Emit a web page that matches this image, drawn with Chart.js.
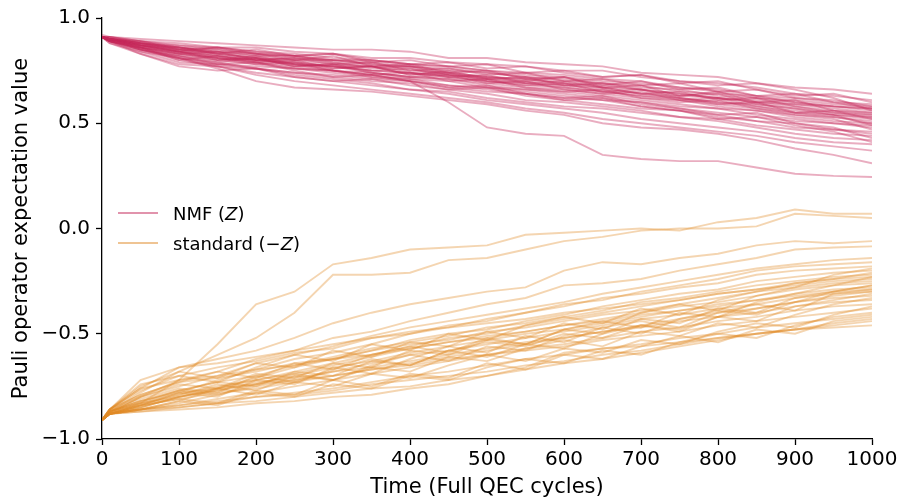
<!DOCTYPE html>
<html>
<head>
<meta charset="utf-8">
<script src="https://cdn.jsdelivr.net/npm/chart.js@4"></script>
<style>
  body { margin: 0; background: #fff; }
  #wrap { position: relative; width: 902px; height: 502px; }
  .legend { position: absolute; left: 118px; top: 198px; font-family: 'DejaVu Sans', sans-serif; font-size: 18px; color: #000; }
  .legend div { height: 30px; display: flex; align-items: center; }
  .legend span.ln { display: inline-block; width: 40px; height: 2px; margin-right: 15px; }
</style>
</head>
<body>
<div id="wrap">
  <canvas id="chart" width="902" height="502"></canvas>
  <div class="legend">
    <div><span class="ln" style="background: rgba(196, 40, 90, 0.5)"></span>NMF (<i>Z</i>)</div>
    <div><span class="ln" style="background: rgba(224, 138, 40, 0.5)"></span>standard (−<i>Z</i>)</div>
  </div>
</div>
<script>
const times = [0, 10, 50, 100, 150, 200, 250, 300, 350, 400, 450, 500, 550, 600, 650, 700, 750, 800, 850, 900, 950, 1000];
const yTickLabels = ['−1.0', '−0.5', '0.0', '0.5', '1.0'];

// NMF (Z) runs, every 50 cycles
const nmfRuns = [
    [0.91, 0.91, 0.90, 0.89, 0.88, 0.87, 0.86, 0.85, 0.85, 0.84, 0.81, 0.81, 0.79, 0.78, 0.77, 0.74, 0.73, 0.72, 0.69, 0.67, 0.66, 0.64],
    [0.91, 0.90, 0.89, 0.88, 0.86, 0.86, 0.84, 0.83, 0.81, 0.81, 0.79, 0.78, 0.77, 0.75, 0.75, 0.72, 0.70, 0.69, 0.67, 0.64, 0.63, 0.61],
    [0.91, 0.91, 0.89, 0.87, 0.86, 0.84, 0.83, 0.81, 0.80, 0.78, 0.77, 0.75, 0.74, 0.73, 0.71, 0.70, 0.67, 0.66, 0.63, 0.62, 0.60, 0.59],
    [0.92, 0.91, 0.89, 0.86, 0.85, 0.83, 0.82, 0.80, 0.80, 0.78, 0.77, 0.75, 0.73, 0.72, 0.70, 0.69, 0.67, 0.65, 0.62, 0.61, 0.59, 0.58],
    [0.91, 0.90, 0.88, 0.87, 0.85, 0.83, 0.81, 0.80, 0.78, 0.77, 0.75, 0.74, 0.72, 0.70, 0.69, 0.68, 0.65, 0.64, 0.63, 0.60, 0.58, 0.57],
    [0.91, 0.90, 0.88, 0.86, 0.84, 0.82, 0.82, 0.79, 0.77, 0.77, 0.74, 0.72, 0.71, 0.69, 0.67, 0.66, 0.64, 0.62, 0.61, 0.59, 0.58, 0.56],
    [0.91, 0.90, 0.89, 0.85, 0.84, 0.82, 0.80, 0.80, 0.78, 0.76, 0.73, 0.72, 0.70, 0.68, 0.67, 0.64, 0.63, 0.62, 0.60, 0.58, 0.56, 0.55],
    [0.91, 0.91, 0.88, 0.86, 0.83, 0.81, 0.79, 0.77, 0.77, 0.74, 0.73, 0.71, 0.69, 0.68, 0.66, 0.64, 0.62, 0.60, 0.59, 0.57, 0.55, 0.54],
    [0.91, 0.90, 0.87, 0.84, 0.82, 0.80, 0.79, 0.77, 0.75, 0.74, 0.72, 0.70, 0.68, 0.67, 0.65, 0.63, 0.62, 0.60, 0.58, 0.56, 0.54, 0.53],
    [0.91, 0.89, 0.86, 0.83, 0.81, 0.80, 0.78, 0.77, 0.74, 0.72, 0.71, 0.69, 0.67, 0.66, 0.64, 0.62, 0.61, 0.58, 0.56, 0.54, 0.53, 0.51],
    [0.91, 0.90, 0.87, 0.85, 0.82, 0.80, 0.78, 0.75, 0.74, 0.72, 0.71, 0.68, 0.66, 0.65, 0.63, 0.61, 0.59, 0.57, 0.56, 0.53, 0.51, 0.50],
    [0.91, 0.90, 0.86, 0.82, 0.80, 0.78, 0.76, 0.75, 0.73, 0.71, 0.70, 0.67, 0.66, 0.64, 0.62, 0.60, 0.58, 0.57, 0.54, 0.52, 0.50, 0.49],
    [0.91, 0.89, 0.84, 0.79, 0.78, 0.77, 0.76, 0.74, 0.72, 0.71, 0.68, 0.67, 0.65, 0.63, 0.61, 0.60, 0.57, 0.55, 0.53, 0.51, 0.50, 0.48],
    [0.91, 0.90, 0.87, 0.84, 0.81, 0.79, 0.76, 0.75, 0.72, 0.70, 0.68, 0.66, 0.64, 0.62, 0.61, 0.58, 0.56, 0.54, 0.51, 0.50, 0.47, 0.46],
    [0.91, 0.89, 0.83, 0.78, 0.77, 0.76, 0.74, 0.73, 0.71, 0.70, 0.67, 0.65, 0.64, 0.61, 0.59, 0.57, 0.56, 0.53, 0.51, 0.48, 0.47, 0.45],
    [0.91, 0.90, 0.86, 0.81, 0.78, 0.76, 0.74, 0.72, 0.70, 0.69, 0.66, 0.64, 0.61, 0.60, 0.58, 0.56, 0.53, 0.52, 0.49, 0.47, 0.45, 0.44],
    [0.91, 0.89, 0.85, 0.82, 0.79, 0.76, 0.73, 0.71, 0.69, 0.66, 0.65, 0.62, 0.60, 0.58, 0.57, 0.55, 0.53, 0.51, 0.48, 0.45, 0.43, 0.42],
    [0.91, 0.89, 0.86, 0.80, 0.77, 0.74, 0.72, 0.70, 0.68, 0.66, 0.64, 0.61, 0.59, 0.57, 0.55, 0.52, 0.50, 0.48, 0.46, 0.43, 0.41, 0.40],
    [0.91, 0.90, 0.85, 0.81, 0.77, 0.73, 0.70, 0.68, 0.66, 0.64, 0.62, 0.60, 0.57, 0.55, 0.52, 0.50, 0.48, 0.46, 0.44, 0.41, 0.39, 0.37],
    [0.91, 0.89, 0.85, 0.81, 0.76, 0.70, 0.67, 0.66, 0.65, 0.63, 0.61, 0.59, 0.56, 0.54, 0.50, 0.48, 0.47, 0.45, 0.42, 0.38, 0.35, 0.31],
    [0.91, 0.90, 0.87, 0.84, 0.81, 0.79, 0.77, 0.75, 0.73, 0.70, 0.60, 0.48, 0.45, 0.44, 0.35, 0.33, 0.32, 0.32, 0.29, 0.26, 0.25, 0.245],
    [0.91, 0.90, 0.88, 0.86, 0.84, 0.83, 0.82, 0.80, 0.79, 0.77, 0.76, 0.74, 0.72, 0.71, 0.69, 0.67, 0.66, 0.63, 0.62, 0.60, 0.58, 0.57],
    [0.91, 0.90, 0.88, 0.85, 0.83, 0.81, 0.80, 0.78, 0.77, 0.75, 0.74, 0.72, 0.71, 0.69, 0.68, 0.66, 0.64, 0.62, 0.60, 0.59, 0.57, 0.55],
    [0.91, 0.90, 0.87, 0.85, 0.83, 0.81, 0.78, 0.77, 0.75, 0.74, 0.72, 0.70, 0.69, 0.67, 0.65, 0.63, 0.61, 0.59, 0.57, 0.55, 0.54, 0.52],
    [0.91, 0.89, 0.86, 0.83, 0.84, 0.80, 0.81, 0.78, 0.79, 0.75, 0.76, 0.73, 0.74, 0.70, 0.71, 0.68, 0.69, 0.65, 0.66, 0.62, 0.61, 0.58],
    [0.91, 0.90, 0.88, 0.84, 0.86, 0.83, 0.80, 0.82, 0.77, 0.78, 0.74, 0.75, 0.71, 0.72, 0.68, 0.70, 0.66, 0.67, 0.63, 0.64, 0.60, 0.57],
    [0.91, 0.89, 0.85, 0.80, 0.82, 0.79, 0.80, 0.76, 0.77, 0.73, 0.75, 0.71, 0.70, 0.72, 0.67, 0.68, 0.63, 0.65, 0.60, 0.61, 0.56, 0.54],
    [0.91, 0.90, 0.87, 0.86, 0.83, 0.85, 0.82, 0.83, 0.79, 0.80, 0.77, 0.78, 0.74, 0.75, 0.72, 0.73, 0.69, 0.70, 0.66, 0.63, 0.64, 0.60],
    [0.91, 0.88, 0.84, 0.81, 0.79, 0.81, 0.77, 0.78, 0.74, 0.72, 0.73, 0.69, 0.70, 0.66, 0.64, 0.65, 0.61, 0.62, 0.58, 0.55, 0.56, 0.52],
    [0.91, 0.90, 0.86, 0.84, 0.80, 0.82, 0.78, 0.76, 0.77, 0.73, 0.74, 0.70, 0.68, 0.69, 0.65, 0.66, 0.62, 0.59, 0.60, 0.55, 0.53, 0.50],
    [0.91, 0.89, 0.87, 0.83, 0.81, 0.78, 0.79, 0.75, 0.73, 0.74, 0.70, 0.71, 0.67, 0.65, 0.66, 0.62, 0.60, 0.61, 0.57, 0.54, 0.52, 0.47],
    [0.91, 0.90, 0.85, 0.82, 0.78, 0.79, 0.75, 0.72, 0.73, 0.70, 0.67, 0.68, 0.64, 0.62, 0.63, 0.59, 0.57, 0.54, 0.55, 0.50, 0.48, 0.43],
    [0.91, 0.88, 0.83, 0.77, 0.75, 0.76, 0.72, 0.70, 0.71, 0.68, 0.66, 0.67, 0.63, 0.61, 0.62, 0.58, 0.56, 0.52, 0.53, 0.49, 0.46, 0.41],
    [0.91, 0.90, 0.88, 0.85, 0.86, 0.84, 0.82, 0.83, 0.80, 0.78, 0.79, 0.76, 0.77, 0.74, 0.72, 0.73, 0.70, 0.68, 0.69, 0.66, 0.62, 0.56],
    [0.91, 0.89, 0.86, 0.83, 0.80, 0.81, 0.77, 0.78, 0.75, 0.76, 0.72, 0.73, 0.69, 0.70, 0.67, 0.64, 0.65, 0.61, 0.62, 0.58, 0.55, 0.53],
    [0.91, 0.90, 0.87, 0.84, 0.82, 0.80, 0.81, 0.79, 0.76, 0.77, 0.73, 0.71, 0.72, 0.68, 0.69, 0.66, 0.63, 0.64, 0.59, 0.57, 0.54, 0.49],
];

// standard (-Z) runs
const standardRuns = [
    [-0.91, -0.88, -0.80, -0.72, -0.55, -0.36, -0.30, -0.17, -0.14, -0.10, -0.09, -0.08, -0.03, -0.02, -0.01, 0.00, -0.01, 0.03, 0.05, 0.09, 0.07, 0.07],
    [-0.91, -0.87, -0.78, -0.68, -0.60, -0.52, -0.40, -0.22, -0.22, -0.21, -0.15, -0.14, -0.10, -0.06, -0.04, -0.01, 0.00, 0.00, 0.01, 0.07, 0.06, 0.05],
    [-0.91, -0.86, -0.76, -0.66, -0.62, -0.58, -0.52, -0.45, -0.40, -0.36, -0.33, -0.30, -0.28, -0.20, -0.16, -0.17, -0.14, -0.12, -0.08, -0.06, -0.07, -0.06],
    [-0.91, -0.88, -0.83, -0.72, -0.68, -0.62, -0.58, -0.52, -0.49, -0.44, -0.40, -0.36, -0.33, -0.27, -0.26, -0.24, -0.20, -0.17, -0.14, -0.10, -0.09, -0.085],
    [-0.91, -0.87, -0.80, -0.75, -0.70, -0.64, -0.60, -0.56, -0.51, -0.47, -0.44, -0.41, -0.38, -0.35, -0.31, -0.28, -0.25, -0.22, -0.19, -0.17, -0.15, -0.14],
    [-0.91, -0.88, -0.84, -0.78, -0.72, -0.67, -0.62, -0.59, -0.55, -0.50, -0.46, -0.44, -0.40, -0.36, -0.34, -0.30, -0.27, -0.24, -0.20, -0.18, -0.17, -0.16],
    [-0.91, -0.86, -0.74, -0.70, -0.66, -0.63, -0.59, -0.57, -0.52, -0.49, -0.47, -0.43, -0.40, -0.37, -0.33, -0.31, -0.28, -0.26, -0.22, -0.20, -0.19, -0.18],
    [-0.91, -0.88, -0.85, -0.80, -0.76, -0.71, -0.66, -0.62, -0.58, -0.53, -0.50, -0.48, -0.44, -0.41, -0.37, -0.34, -0.31, -0.29, -0.25, -0.23, -0.21, -0.20],
    [-0.91, -0.87, -0.82, -0.77, -0.73, -0.70, -0.65, -0.61, -0.57, -0.54, -0.51, -0.47, -0.45, -0.42, -0.39, -0.35, -0.33, -0.30, -0.27, -0.25, -0.23, -0.22],
    [-0.91, -0.88, -0.86, -0.82, -0.76, -0.72, -0.68, -0.64, -0.60, -0.56, -0.52, -0.50, -0.46, -0.43, -0.40, -0.37, -0.34, -0.31, -0.29, -0.26, -0.24, -0.23],
    [-0.91, -0.86, -0.79, -0.73, -0.71, -0.68, -0.64, -0.62, -0.58, -0.55, -0.53, -0.49, -0.47, -0.44, -0.41, -0.39, -0.36, -0.33, -0.30, -0.28, -0.26, -0.25],
    [-0.91, -0.88, -0.84, -0.79, -0.75, -0.72, -0.69, -0.65, -0.61, -0.57, -0.54, -0.51, -0.49, -0.46, -0.43, -0.40, -0.37, -0.35, -0.32, -0.29, -0.27, -0.26],
    [-0.91, -0.87, -0.83, -0.80, -0.77, -0.74, -0.70, -0.66, -0.63, -0.59, -0.56, -0.53, -0.50, -0.48, -0.45, -0.42, -0.39, -0.36, -0.34, -0.31, -0.29, -0.28],
    [-0.91, -0.86, -0.76, -0.72, -0.70, -0.67, -0.65, -0.62, -0.60, -0.57, -0.54, -0.52, -0.49, -0.46, -0.44, -0.41, -0.39, -0.37, -0.34, -0.32, -0.30, -0.29],
    [-0.91, -0.88, -0.86, -0.83, -0.79, -0.75, -0.72, -0.68, -0.64, -0.60, -0.58, -0.55, -0.52, -0.49, -0.46, -0.43, -0.41, -0.38, -0.36, -0.33, -0.31, -0.30],
    [-0.91, -0.87, -0.84, -0.81, -0.78, -0.76, -0.73, -0.70, -0.67, -0.64, -0.61, -0.58, -0.55, -0.52, -0.49, -0.46, -0.43, -0.40, -0.38, -0.35, -0.33, -0.32],
    [-0.91, -0.88, -0.85, -0.80, -0.77, -0.73, -0.71, -0.68, -0.66, -0.63, -0.60, -0.57, -0.54, -0.52, -0.49, -0.47, -0.44, -0.42, -0.40, -0.37, -0.35, -0.34],
    [-0.91, -0.88, -0.86, -0.84, -0.81, -0.78, -0.75, -0.72, -0.69, -0.66, -0.63, -0.60, -0.57, -0.55, -0.52, -0.49, -0.47, -0.44, -0.42, -0.39, -0.37, -0.36],
    [-0.91, -0.87, -0.82, -0.78, -0.76, -0.74, -0.72, -0.70, -0.67, -0.65, -0.62, -0.60, -0.58, -0.56, -0.53, -0.51, -0.49, -0.46, -0.44, -0.42, -0.40, -0.38],
    [-0.91, -0.88, -0.87, -0.85, -0.83, -0.80, -0.78, -0.76, -0.73, -0.70, -0.68, -0.65, -0.62, -0.60, -0.57, -0.55, -0.52, -0.50, -0.47, -0.45, -0.43, -0.41],
    [-0.91, -0.88, -0.86, -0.84, -0.82, -0.80, -0.79, -0.77, -0.74, -0.72, -0.70, -0.68, -0.65, -0.63, -0.60, -0.58, -0.55, -0.52, -0.50, -0.48, -0.45, -0.43],
    [-0.91, -0.88, -0.87, -0.86, -0.85, -0.83, -0.82, -0.80, -0.79, -0.76, -0.74, -0.70, -0.66, -0.59, -0.57, -0.56, -0.54, -0.52, -0.50, -0.48, -0.47, -0.46],
    [-0.91, -0.88, -0.86, -0.85, -0.83, -0.82, -0.80, -0.78, -0.76, -0.75, -0.72, -0.70, -0.67, -0.64, -0.62, -0.59, -0.56, -0.53, -0.50, -0.48, -0.46, -0.44],
    [-0.91, -0.86, -0.72, -0.66, -0.64, -0.61, -0.58, -0.55, -0.52, -0.50, -0.47, -0.45, -0.43, -0.40, -0.38, -0.36, -0.34, -0.31, -0.29, -0.27, -0.25, -0.24],
    [-0.91, -0.87, -0.80, -0.74, -0.76, -0.69, -0.71, -0.64, -0.66, -0.58, -0.60, -0.53, -0.55, -0.48, -0.50, -0.43, -0.45, -0.38, -0.40, -0.33, -0.30, -0.27],
    [-0.91, -0.88, -0.84, -0.78, -0.80, -0.72, -0.74, -0.66, -0.69, -0.62, -0.56, -0.59, -0.51, -0.54, -0.47, -0.44, -0.47, -0.40, -0.36, -0.39, -0.31, -0.29],
    [-0.91, -0.86, -0.77, -0.70, -0.73, -0.66, -0.60, -0.63, -0.55, -0.58, -0.50, -0.53, -0.46, -0.42, -0.45, -0.38, -0.41, -0.34, -0.30, -0.26, -0.24, -0.21],
    [-0.91, -0.88, -0.86, -0.82, -0.84, -0.78, -0.80, -0.74, -0.76, -0.70, -0.72, -0.66, -0.62, -0.64, -0.58, -0.60, -0.54, -0.50, -0.52, -0.46, -0.42, -0.40],
    [-0.91, -0.87, -0.81, -0.76, -0.78, -0.70, -0.73, -0.67, -0.62, -0.65, -0.58, -0.61, -0.55, -0.57, -0.50, -0.46, -0.49, -0.42, -0.44, -0.37, -0.34, -0.31],
    [-0.91, -0.88, -0.83, -0.79, -0.74, -0.77, -0.70, -0.72, -0.65, -0.60, -0.63, -0.56, -0.58, -0.51, -0.47, -0.50, -0.43, -0.39, -0.41, -0.35, -0.30, -0.27],
    [-0.91, -0.86, -0.75, -0.68, -0.71, -0.64, -0.66, -0.58, -0.61, -0.54, -0.56, -0.49, -0.52, -0.45, -0.48, -0.40, -0.36, -0.39, -0.32, -0.28, -0.22, -0.19],
    [-0.91, -0.88, -0.85, -0.80, -0.76, -0.79, -0.73, -0.75, -0.69, -0.71, -0.65, -0.60, -0.63, -0.57, -0.59, -0.53, -0.55, -0.49, -0.45, -0.47, -0.41, -0.37],
    [-0.91, -0.87, -0.82, -0.77, -0.73, -0.75, -0.68, -0.70, -0.63, -0.65, -0.58, -0.54, -0.56, -0.50, -0.52, -0.46, -0.48, -0.42, -0.38, -0.35, -0.32, -0.30],
    [-0.91, -0.88, -0.84, -0.81, -0.83, -0.77, -0.79, -0.72, -0.75, -0.69, -0.71, -0.64, -0.67, -0.60, -0.62, -0.56, -0.51, -0.54, -0.48, -0.50, -0.44, -0.42],
    [-0.91, -0.86, -0.79, -0.73, -0.68, -0.71, -0.64, -0.67, -0.60, -0.56, -0.59, -0.52, -0.55, -0.48, -0.44, -0.47, -0.40, -0.42, -0.35, -0.31, -0.27, -0.23],
    [-0.91, -0.87, -0.83, -0.77, -0.79, -0.74, -0.69, -0.72, -0.66, -0.68, -0.61, -0.63, -0.57, -0.53, -0.56, -0.49, -0.51, -0.45, -0.47, -0.41, -0.36, -0.33],
];

const nmfColor = 'rgba(196, 40, 90, 0.38)';
const standardColor = 'rgba(224, 138, 40, 0.36)';

function toDataset(run, color) {
    return {
        data: run.map((v, i) => ({ x: times[i], y: v })),
        borderColor: color,
        borderWidth: 1.9,
        pointRadius: 0,
        tension: 0,
        fill: false,
    };
}

const datasets = [
    ...nmfRuns.map(r => toDataset(r, nmfColor)),
    ...standardRuns.map(r => toDataset(r, standardColor)),
];

Chart.defaults.font.family = "'DejaVu Sans', sans-serif";
Chart.defaults.color = '#000';

new Chart(document.getElementById('chart'), {
    type: 'line',
    data: { datasets },
    options: {
        responsive: false,
        animation: false,
        devicePixelRatio: 1,
        layout: { padding: { left: 0, right: 30, top: 15, bottom: 0 } },
        plugins: { legend: { display: false }, tooltip: { enabled: false } },
        scales: {
            x: {
                type: 'linear',
                min: 0,
                max: 1000,
                afterFit: (scale) => { scale.height = 63; },
                ticks: { stepSize: 100, font: { size: 20 }, padding: 3, maxRotation: 0, callback: (v) => String(v) },
                grid: { drawOnChartArea: false, tickLength: 6, tickWidth: 1.3, tickColor: '#000' },
                border: { display: true, color: '#000', width: 1.3 },
                title: { display: true, text: 'Time (Full QEC cycles)', font: { size: 21 }, padding: { top: 0, bottom: 2 } },
            },
            y: {
                min: -1,
                max: 1,
                afterFit: (scale) => { scale.width = 102; },
                ticks: { stepSize: 0.5, font: { size: 20 }, padding: 6, callback: (v, i) => yTickLabels[i] },
                grid: { drawOnChartArea: false, tickLength: 6, tickWidth: 1.3, tickColor: '#000' },
                border: { display: true, color: '#000', width: 1.3 },
                title: { display: true, text: 'Pauli operator expectation value', font: { size: 21 }, padding: { top: 9, bottom: 0 } },
            },
        },
    },
});
</script>
</body>
</html>
